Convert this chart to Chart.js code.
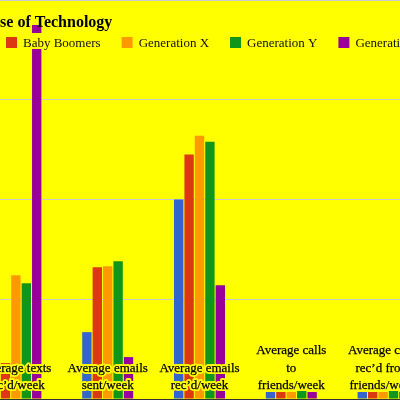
<!DOCTYPE html>
<html>
<head>
<meta charset="utf-8">
<title>Use of Technology</title>
<script src="https://cdn.jsdelivr.net/npm/chart.js@4.4.0/dist/chart.umd.min.js"></script>
<style>
  html, body { margin: 0; padding: 0; background: #ffff00; }
  #wrap { position: relative; width: 400px; height: 400px; overflow: hidden; background: #ffff00; }
  #chart { position: absolute; left: -30px; top: 0; }
</style>
</head>
<body>
<div id="wrap"><canvas id="chart" width="459" height="400"></canvas></div>
<script>
// Data
const chartTitle = "Use of Technology";
const categories = [
  ["Average texts", "rec’d/week"],
  ["Average emails", "sent/week"],
  ["Average emails", "rec’d/week"],
  ["Average calls", "to", "friends/week"],
  ["Average calls", "rec’d from", "friends/week"]
];
const seriesNames = ["Traditionalists", "Baby Boomers", "Generation X", "Generation Y", "Generation Z"];
const seriesColors = ["#3366cc", "#dc3912", "#ff9900", "#109618", "#990099"];
const traditionalists = [15, 67, 200, 7, 7];
const babyBoomers = [36, 132, 245, 7, 7];
const generationX = [124, 133, 264, 7, 7];
const generationY = [116, 138, 258, 8, 8];
const generationZ = [375, 42, 114, 7, 7];
const yTicks = [0, 100, 200, 300, 400];

const seriesValues = [traditionalists, babyBoomers, generationX, generationY, generationZ];

// page offset of the canvas (chart is wider than the window)
const CANVAS_LEFT = -30;
const FONT = "'Liberation Serif', 'Times New Roman', serif";

// Title, legend and in-plot category labels
const overlayPlugin = {
  id: "overlay",
  afterDatasetsDraw(chart) {
    const ctx = chart.ctx;
    const xScale = chart.scales.x;
    const bottom = chart.chartArea.bottom;

    // category labels, bottom aligned, with a yellow halo
    ctx.save();
    ctx.font = "13px " + FONT;
    ctx.textAlign = "center";
    ctx.textBaseline = "middle";
    ctx.lineJoin = "round";
    chart.data.labels.forEach((lines, i) => {
      const x = xScale.getPixelForValue(i);
      lines.forEach((line, j) => {
        const y = bottom - 13 - (lines.length - 1 - j) * 17.5;
        ctx.lineWidth = 4;
        ctx.strokeStyle = "#ffff00";
        ctx.strokeText(line, x, y);
        ctx.lineWidth = 0.25;
        ctx.strokeStyle = "#000";
        ctx.strokeText(line, x, y);
        ctx.fillStyle = "#000";
        ctx.fillText(line, x, y);
      });
    });
    ctx.restore();

    // title
    ctx.save();
    ctx.font = "bold 16px " + FONT;
    ctx.fillStyle = "#000";
    ctx.textBaseline = "alphabetic";
    ctx.fillText(chartTitle, -11.5 - CANVAS_LEFT, 27);
    ctx.restore();

    // legend
    ctx.save();
    ctx.font = "13px " + FONT;
    ctx.textBaseline = "alphabetic";
    const sets = chart.data.datasets;
    const gap = 21;
    const first = ctx.measureText(sets[0].label).width;
    let x = 6 - gap - first - 17 - CANVAS_LEFT;
    sets.forEach(ds => {
      const w = ctx.measureText(ds.label).width;
      ctx.fillStyle = "#ffff00";
      ctx.fillRect(x, 33, 17 + w + 2, 16);
      ctx.fillStyle = ds.backgroundColor;
      ctx.fillRect(x, 37, 11, 11);
      ctx.fillStyle = "#111";
      ctx.fillText(ds.label, x + 17, 47);
      x += 17 + w + gap;
    });
    ctx.restore();
  }
};

const chart = new Chart(document.getElementById("chart"), {
  type: "bar",
  data: {
    labels: categories,
    datasets: seriesNames.map((name, i) => ({
      label: name,
      data: seriesValues[i],
      backgroundColor: seriesColors[i],
      borderWidth: 0,
      categoryPercentage: 0.567,
      barPercentage: 0.9
    }))
  },
  options: {
    responsive: false,
    animation: false,
    layout: { padding: { top: 0, bottom: 1, left: 0, right: 0 } },
    plugins: {
      legend: { display: false },
      title: { display: false },
      tooltip: { enabled: false }
    },
    scales: {
      x: {
        ticks: { display: false },
        grid: { display: false, drawTicks: false },
        border: { display: true, color: "#333", width: 1 },
        afterFit(scale) { scale.height = 0; }
      },
      y: {
        min: yTicks[0],
        max: yTicks[yTicks.length - 1],
        afterBuildTicks(scale) { scale.ticks = yTicks.map(v => ({ value: v })); },
        ticks: { display: false },
        grid: { color: "#cccccc", drawTicks: false },
        border: { display: false },
        afterFit(scale) { scale.height; scale.width = 0; }
      }
    }
  },
  plugins: [overlayPlugin]
});
</script>
</body>
</html>
